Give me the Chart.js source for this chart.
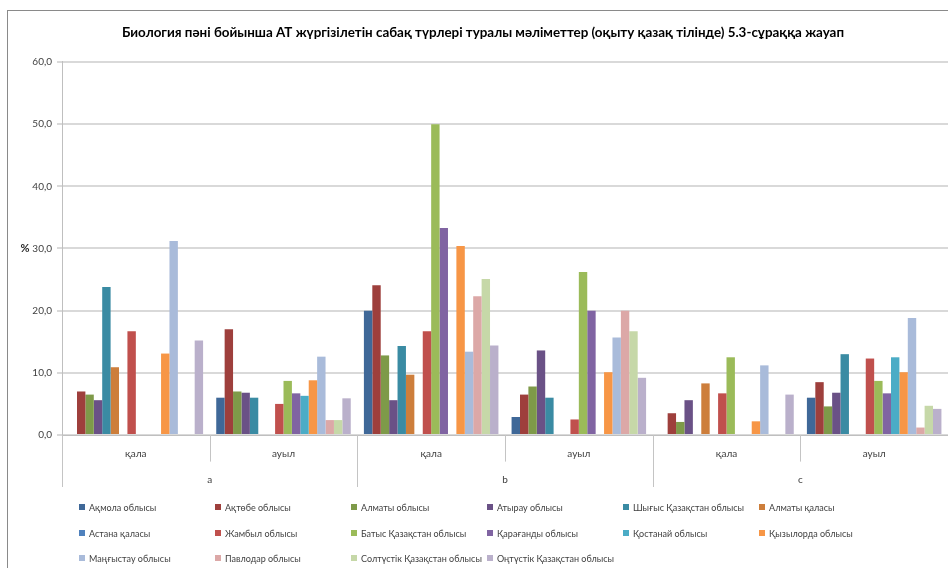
<!DOCTYPE html>
<html>
<head>
<meta charset="utf-8">
<script src="https://cdn.jsdelivr.net/npm/chart.js@4.4.1/dist/chart.umd.min.js"></script>
<style>
  html, body { margin: 0; padding: 0; background: #ffffff; }
  #wrap { position: relative; width: 948px; height: 568px; overflow: hidden; }
  #frame { position: absolute; left: 7px; top: 10px; width: 1200px; height: 1200px; border: 1px solid #8a8a8a; box-sizing: border-box; z-index: 0; }
  #c { position: absolute; left: 0; top: 0; z-index: 1; }
</style>
</head>
<body>
<div id="wrap">
  <div id="frame"></div>
  <canvas id="c" width="948" height="568"></canvas>
</div>
<script>
// ---- data ----
const titleText = 'Биология пәні бойынша АТ жүргізілетін сабақ түрлері туралы мәліметтер (оқыту қазақ тілінде) 5.3-сұраққа жауап';
const categories = ['қала', 'ауыл', 'қала', 'ауыл', 'қала', 'ауыл'];
const groups = ['a', 'b', 'c'];
const yTicks = [0, 10, 20, 30, 40, 50, 60];
const yUnit = '%';

const regionNames = [
  'Ақмола облысы', 'Ақтөбе облысы', 'Алматы облысы', 'Атырау облысы',
  'Шығыс Қазақстан облысы', 'Алматы қаласы', 'Астана қаласы', 'Жамбыл облысы',
  'Батыс Қазақстан облысы', 'Қарағанды облысы', 'Қостанай облысы', 'Қызылорда облысы',
  'Маңғыстау облысы', 'Павлодар облысы', 'Солтүстік Қазақстан облысы', 'Оңтүстік Қазақстан облысы'
];

// values per region: a қала, a ауыл, b қала, b ауыл, c қала, c ауыл
const akmola      = [0,    6.0,  20.0, 2.9,  0,    6.0];
const aktobe      = [7.0,  17.0, 24.1, 6.5,  3.5,  8.5];
const almatyObl   = [6.5,  7.0,  12.8, 7.8,  2.1,  4.6];
const atyrau      = [5.6,  6.8,  5.6,  13.6, 5.6,  6.8];
const eastKaz     = [23.8, 6.0,  14.3, 6.0,  0,    13.0];
const almatyCity  = [10.9, 0,    9.7,  0,    8.3,  0];
const astanaCity  = [0,    0,    0,    0,    0,    0];
const zhambyl     = [16.7, 5.0,  16.7, 2.5,  6.7,  12.3];
const westKaz     = [0,    8.7,  50.0, 26.2, 12.5, 8.7];
const karaganda   = [0,    6.7,  33.3, 20.0, 0,    6.7];
const kostanay    = [0,    6.3,  0,    0,    0,    12.5];
const kyzylorda   = [13.1, 8.8,  30.4, 10.1, 2.2,  10.1];
const mangystau   = [31.2, 12.6, 13.4, 15.7, 11.2, 18.8];
const pavlodar    = [0,    2.4,  22.3, 20.0, 0,    1.2];
const northKaz    = [0,    2.4,  25.1, 16.7, 0,    4.7];
const southKaz    = [15.2, 5.9,  14.4, 9.2,  6.5,  4.2];

const seriesValues = [akmola, aktobe, almatyObl, atyrau, eastKaz, almatyCity, astanaCity, zhambyl,
  westKaz, karaganda, kostanay, kyzylorda, mangystau, pavlodar, northKaz, southKaz];

const seriesColors = [
  '#3F6898', '#9E3F3C', '#7E9A49', '#6A5186', '#3A8BA3', '#CD7E3B', '#4F81BD', '#C0504D',
  '#9BBB59', '#8064A2', '#4BACC6', '#F79646', '#A9BBDA', '#DCA8A7', '#C6D8A8', '#BAB0CB'
];

// ---- styling ----
const FONT = "Lato, 'Liberation Sans', Arial, sans-serif";
Chart.defaults.font.family = FONT;
Chart.defaults.font.size = 10;
Chart.defaults.color = '#404040';

const LEGEND = { cols: 6, colStep: 136, firstOffset: 17, rowStep: 25.5, firstRow: 20, box: 6, gap: 4, fontSize: 10, squeeze: 0.9 };
const LEGEND_SPACE = 81;
const LEFT_PAD = 18;

const datasets = regionNames.map((name, i) => ({
  label: name,
  data: seriesValues[i],
  backgroundColor: seriesColors[i],
  borderWidth: 0,
  categoryPercentage: 0.911,
  barPercentage: 1.0,
  xAxisID: 'x',
  yAxisID: 'y'
}));

const dividerPlugin = {
  id: 'groupDividers',
  afterDraw(chart) {
    const x = chart.scales.x, x2 = chart.scales.x2, y = chart.scales.y;
    const ctx = chart.ctx;
    ctx.save();
    ctx.strokeStyle = '#c4c4c4';
    ctx.lineWidth = 1;
    const n = x.getLabels().length;
    const top = chart.chartArea.bottom;
    for (let i = 0; i <= n; i++) {
      const px = Math.round(x.getPixelForValue(i - 0.5)) + 0.5;
      const bottom = (i % 2 === 0) ? x2.bottom : x.top + 0.7 * (x.bottom - x.top);
      ctx.beginPath();
      ctx.moveTo(px, top);
      ctx.lineTo(px, bottom);
      ctx.stroke();
    }
    // unit label
    ctx.fillStyle = '#262626';
    ctx.font = 'bold 11px ' + FONT;
    ctx.textAlign = 'center';
    ctx.textBaseline = 'middle';
    ctx.fillText(yUnit, 25, y.getPixelForValue(yTicks[3]));

    // grid legend (fixed columns, like the source)
    ctx.font = LEGEND.fontSize + 'px ' + FONT;
    ctx.textAlign = 'left';
    const left0 = chart.chartArea.left + LEGEND.firstOffset;
    const top0 = x2.bottom + LEGEND.firstRow;
    chart.data.datasets.forEach((ds, i) => {
      const c = i % LEGEND.cols, r = Math.floor(i / LEGEND.cols);
      const bx = Math.round(left0 + c * LEGEND.colStep);
      const cy = Math.round(top0 + r * LEGEND.rowStep);
      ctx.fillStyle = ds.backgroundColor;
      ctx.fillRect(bx, cy - LEGEND.box / 2, LEGEND.box, LEGEND.box);
      ctx.fillStyle = '#404040';
      const w = ctx.measureText(ds.label).width * LEGEND.squeeze;
      ctx.fillText(ds.label, bx + LEGEND.box + LEGEND.gap, cy + 0.5, w);
    });
    ctx.restore();
  }
};

new Chart(document.getElementById('c'), {
  type: 'bar',
  data: { labels: categories, datasets },
  options: {
    responsive: false,
    animation: false,
    events: [],
    layout: { padding: { left: LEFT_PAD, right: 0, top: 0, bottom: LEGEND_SPACE } },
    plugins: {
      title: {
        display: true,
        text: titleText,
        color: '#000000',
        font: { size: 13.4, weight: 'bold', family: FONT },
        padding: { top: 25, bottom: 20.9 }
      },
      legend: { display: false },
      tooltip: { enabled: false }
    },
    scales: {
      x: {
        type: 'category',
        position: 'bottom',
        offset: true,
        grid: { display: false, drawTicks: false, tickLength: 0 },
        border: { display: true, color: '#bfbfbf', width: 1 },
        ticks: { padding: 13, color: '#404040', font: { size: 10 }, maxRotation: 0, autoSkip: false }
      },
      x2: {
        type: 'category',
        labels: groups,
        position: 'bottom',
        offset: true,
        grid: { display: false, drawTicks: false, tickLength: 0 },
        border: { display: false },
        ticks: { padding: 1, color: '#404040', font: { size: 10 }, maxRotation: 0, autoSkip: false }
      },
      y: {
        type: 'linear',
        min: yTicks[0],
        max: yTicks[yTicks.length - 1],
        afterFit(scale) { scale.width = 62 - LEFT_PAD; },
        ticks: {
          stepSize: 10,
          padding: 5,
          color: '#404040',
          font: { size: 10 },
          callback: v => v.toFixed(1).replace('.', ',')
        },
        grid: { color: '#d9d9d9', lineWidth: 2, tickLength: 5, drawTicks: true },
        border: { display: true, color: '#bfbfbf', width: 1 }
      }
    }
  },
  plugins: [dividerPlugin]
});
</script>
</body>
</html>
